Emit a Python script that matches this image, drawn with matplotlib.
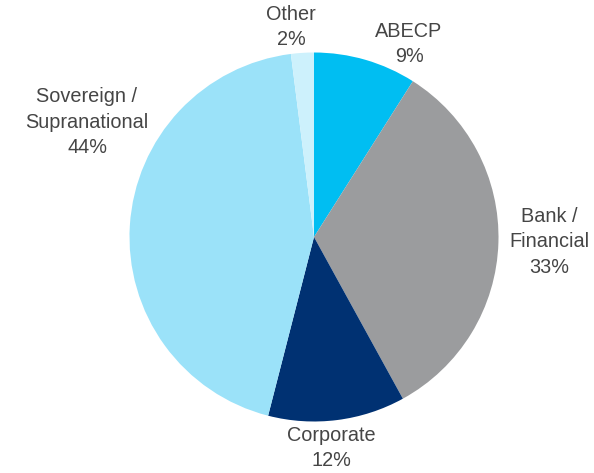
import matplotlib.pyplot as plt

labels = ['ABECP', 'Bank /\nFinancial', 'Corporate', 'Sovereign /\nSupranational', 'Other']
shares = [9, 33, 12, 44, 2]
colors = ['#00BEF2', '#9B9C9E', '#003172', '#9BE2F9', '#CDF1FC']

plt.rcParams['font.family'] = ['Liberation Sans', 'DejaVu Sans']

fig = plt.figure(figsize=(5.94, 4.73), dpi=100)
ax = fig.add_axes([0, 0, 1, 1])

ax.pie(shares, colors=colors, startangle=90, counterclock=False,
       center=(314, 236), radius=184.5, frame=True)
ax.set_xlim(0, 594)
ax.set_ylim(0, 473)
ax.set_aspect('equal')
ax.axis('off')

# label spots in pixel coords (x, y from top)
spots = [(409, 44), (549, 242), (331, 448), (87, 122), (291, 27)]
for lab, val, (x, y) in zip(labels, shares, spots):
    ax.text(x, 473 - y, f'{lab}\n{val}%', ha='center', va='center',
            fontsize=14.3, color='#454545', linespacing=1.42)

plt.savefig('out.png', dpi=100)
